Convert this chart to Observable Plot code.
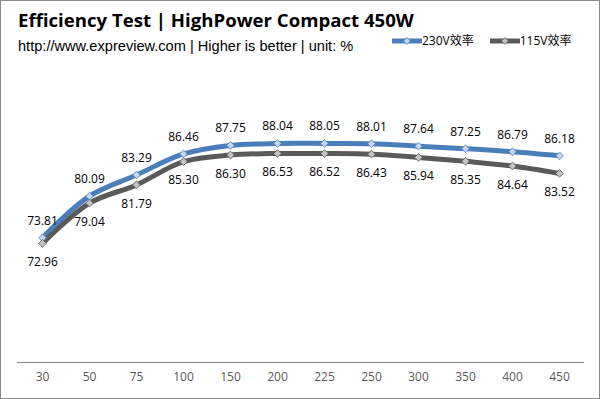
<!DOCTYPE html>
<html>
<head>
<meta charset="utf-8">
<script src="https://cdn.jsdelivr.net/npm/d3@7"></script>
<script src="https://cdn.jsdelivr.net/npm/@observablehq/plot@0.6"></script>
<style>
  html, body { margin: 0; padding: 0; background: #fff; }
  #wrap { position: relative; width: 600px; height: 399px; overflow: hidden; background: #fff; }
  #frame { position: absolute; left: 0; top: 0; width: 600px; height: 399px; box-sizing: border-box; border: 1px solid #8a8a8a; pointer-events: none; }
  #title { position: absolute; left: 18px; top: 8px; font-family: "Open Sans", sans-serif; font-weight: 700; font-size: 18.6px; line-height: 24px; color: #000; white-space: nowrap; }
  #subtitle { position: absolute; left: 18px; top: 36px; font-family: "Liberation Sans", Arial, sans-serif; font-size: 14.6px; line-height: 20px; color: #000; white-space: nowrap; }
  #legend { position: absolute; left: 392px; top: 33px; font-family: "Open Sans", "Noto Sans CJK SC", sans-serif; font-size: 12px; line-height: 16px; color: #000; white-space: nowrap; display: flex; align-items: center; }
  .item { display: flex; align-items: center; margin-right: 16px; }
  .item svg { display: block; }
  #chart { position: absolute; left: 0; top: 60px; }
</style>
</head>
<body>
<div id="wrap">
  <div id="title"></div>
  <div id="subtitle"></div>
  <div id="legend"></div>
  <div id="chart"></div>
  <div id="frame"></div>
</div>
<script>
const titleText = "Efficiency Test | HighPower Compact 450W";
const subtitleText = "http://www.expreview.com | Higher is better | unit: %";
const categories = ["30", "50", "75", "100", "150", "200", "225", "250", "300", "350", "400", "450"];
const eff230 = [73.81, 80.09, 83.29, 86.46, 87.75, 88.04, 88.05, 88.01, 87.64, 87.25, 86.79, 86.18];
const eff115 = [72.96, 79.04, 81.79, 85.30, 86.30, 86.53, 86.52, 86.43, 85.94, 85.35, 84.64, 83.52];
const seriesNames = ["230V效率", "115V效率"];
const yDomain = [55, 90];

const lineColors = ["#4a7ebb", "#5a5a5a"];
const markerFills = ["#c6d6ec", "#c4c4c4"];

document.getElementById("title").textContent = titleText;
document.getElementById("subtitle").textContent = subtitleText;

const data = categories.flatMap((c, i) => [
  {load: c, series: seriesNames[0], value: eff230[i]},
  {load: c, series: seriesNames[1], value: eff115[i]}
]);
const s230 = data.filter(d => d.series === seriesNames[0]);
const s115 = data.filter(d => d.series === seriesNames[1]);

// legend
const legend = document.getElementById("legend");
seriesNames.forEach((name, i) => {
  const item = document.createElement("div");
  item.className = "item";
  const sw = d3.create("svg").attr("width", 30).attr("height", 10);
  sw.append("line").attr("x1", 0).attr("x2", 29).attr("y1", 5).attr("y2", 5)
    .attr("stroke", lineColors[i]).attr("stroke-width", 5).attr("stroke-linecap", "round");
  sw.append("path").attr("d", "M15,1.5L18.5,5L15,8.5L11.5,5Z")
    .attr("fill", markerFills[i]).attr("stroke", lineColors[i]).attr("stroke-width", 0.8);
  item.appendChild(sw.node());
  const t = document.createElement("span");
  t.textContent = name;
  item.appendChild(t);
  legend.appendChild(item);
});

const chart = Plot.plot({
  width: 600,
  height: 339,
  marginTop: 70,
  marginBottom: 37,
  marginLeft: 17,
  marginRight: 16,
  style: {fontFamily: "'Open Sans', sans-serif", background: "transparent"},
  x: {type: "point", domain: categories, padding: 0.5, axis: null},
  y: {domain: yDomain, axis: null},
  color: {domain: seriesNames, range: lineColors},
  marks: [
    Plot.ruleY([yDomain[0]], {stroke: "#868686", strokeWidth: 1}),
    Plot.axisX({tickSize: 0, tickPadding: 10, fontSize: 12, fill: "#595959", label: null}),
    Plot.line(data, {x: "load", y: "value", z: "series", stroke: "series", strokeWidth: 5, curve: "catmull-rom", strokeLinejoin: "round", strokeLinecap: "round"}),
    Plot.dot(s230, {x: "load", y: "value", symbol: "diamond2", r: 3.5, fill: markerFills[0], stroke: lineColors[0], strokeWidth: 0.8}),
    Plot.dot(s115, {x: "load", y: "value", symbol: "diamond2", r: 3.5, fill: markerFills[1], stroke: lineColors[1], strokeWidth: 0.8}),
    Plot.text(s230, {x: "load", y: "value", text: d => d.value.toFixed(2), dy: -17, fontSize: 12, fill: "#000"}),
    Plot.text(s115, {x: "load", y: "value", text: d => d.value.toFixed(2), dy: 19, fontSize: 12, fill: "#000"})
  ]
});
document.getElementById("chart").appendChild(chart);
</script>
</body>
</html>
